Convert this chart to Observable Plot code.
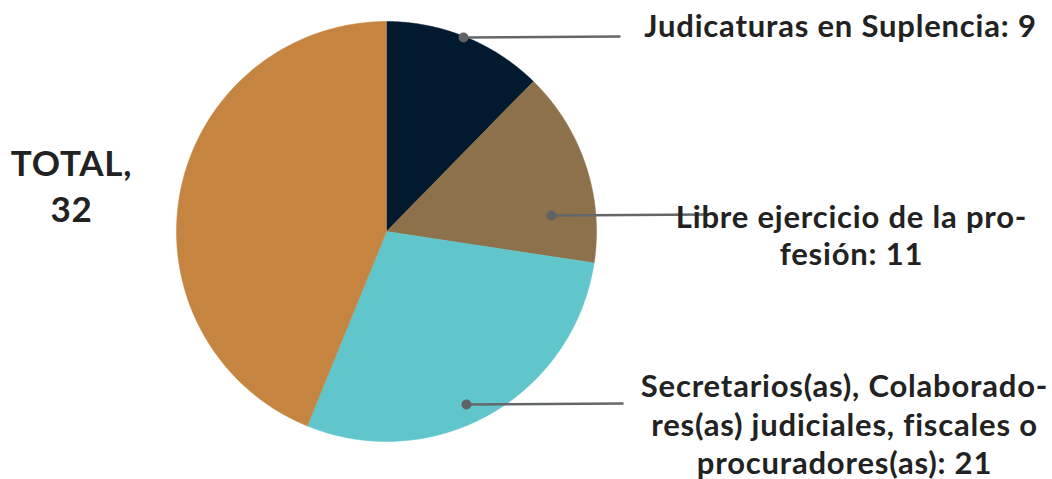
<!DOCTYPE html>
<html>
<head>
<meta charset="utf-8">
<script src="https://cdn.jsdelivr.net/npm/d3@7"></script>
<script src="https://cdn.jsdelivr.net/npm/@observablehq/plot@0.6"></script>
<style>
  html, body { margin: 0; padding: 0; background: #fff; }
  #chart { width: 1052px; height: 479px; }
</style>
</head>
<body>
<div id="chart"></div>
<script>
// ---- data ----
const categories = [
  "Judicaturas en Suplencia",
  "Libre ejercicio de la profesión",
  "Secretarios(as), Colaboradores(as) judiciales, fiscales o procuradores(as)",
  "TOTAL"
];
const values = [9, 11, 21, 32];
const labelTexts = [
  "Judicaturas en Suplencia: 9",
  "Libre ejercicio de la pro-\nfesión: 11",
  "Secretarios(as), Colaborado-\nres(as) judiciales, fiscales o\nprocuradores(as): 21",
  "TOTAL,\n32"
];
const colors = ["#011a2f", "#8c714a", "#60c6cc", "#c58440"];

// ---- layout (pixel positions, not data) ----
const cx = 386, cy = 231, R = 210;
const labelPos = [
  {x: 840, y: 25, size: 31, lh: 1.2},
  {x: 851, y: 234, size: 31, lh: 1.19},
  {x: 844, y: 423, size: 31, lh: 1.24},
  {x: 71, y: 184, size: 35, lh: 1.29}
];
const leaders = [
  {x1: 463, y1: 37, x2: 620, y2: 36},
  {x1: 551, y1: 215, x2: 708, y2: 214},
  {x1: 466, y1: 404, x2: 623, y2: 403}
];

// ---- slices from d3.pie ----
const arcs = d3.pie().sort(null).value(d => d)(values);
const slicePts = [];
arcs.forEach((a, i) => {
  const n = 120;
  slicePts.push({cat: categories[i], x: cx, y: cy});
  for (let k = 0; k <= n; k++) {
    const t = a.startAngle + (a.endAngle - a.startAngle) * k / n;
    slicePts.push({cat: categories[i], x: cx + R * Math.sin(t), y: cy - R * Math.cos(t)});
  }
  slicePts.push({cat: categories[i], x: cx, y: cy});
});

const labels = labelTexts.map((t, i) => ({text: t, ...labelPos[i]}));

const chart = Plot.plot({
  width: 1052,
  height: 479,
  margin: 0,
  x: {domain: [0, 1052], range: [0, 1052], axis: null},
  y: {domain: [0, 479], range: [0, 479], axis: null},
  color: {domain: categories, range: colors},
  style: {fontFamily: "Lato, 'Open Sans', sans-serif", background: "#fff", letterSpacing: "0.8px"},
  marks: [
    Plot.line(slicePts, {x: "x", y: "y", z: "cat", fill: "cat", stroke: "cat", strokeWidth: 0.5}),
    Plot.link(leaders, {x1: "x1", y1: "y1", x2: "x2", y2: "y2", stroke: "#63676a", strokeWidth: 2.5}),
    Plot.dot(leaders, {x: "x1", y: "y1", r: 5, fill: "#5f6366", stroke: "none"}),
    ...labels.map(l => Plot.text([l], {
      x: "x", y: "y", text: "text",
      fontSize: l.size, fontWeight: "bold", fill: "#222222",
      textAnchor: "middle", lineHeight: l.lh
    }))
  ]
});
document.getElementById("chart").appendChild(chart);
</script>
</body>
</html>
